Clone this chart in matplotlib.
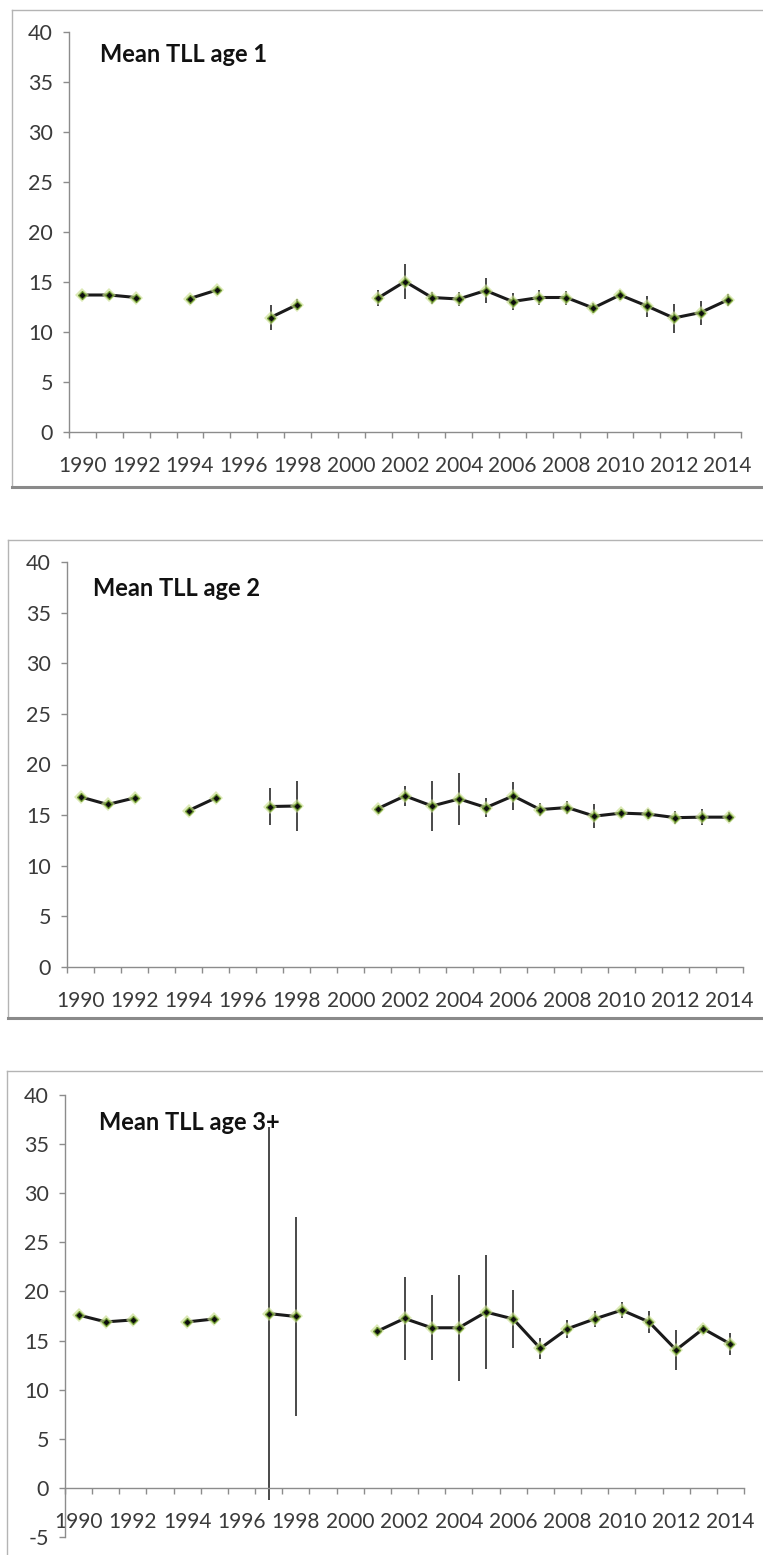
import numpy as np
import matplotlib
matplotlib.use("Agg")
import matplotlib.pyplot as plt
from matplotlib.lines import Line2D

plt.rcParams['font.family'] = ['Lato', 'DejaVu Sans']
plt.rcParams['axes.unicode_minus'] = False

nan = np.nan
years = list(range(1990, 2015))
year_labels = [str(y) for y in range(1990, 2015, 2)]

age1 = [13.7, 13.7, 13.45, nan, 13.35, 14.2, nan, 11.45, 12.75, nan, nan,
        13.4, 15.05, 13.45, 13.3, 14.15, 13.05, 13.45, 13.45, 12.4, 13.7,
        12.6, 11.4, 11.95, 13.2]
age1_err = [0.2, 0.2, 0.2, nan, 0.2, 0.2, nan, 1.25, 0.55, nan, nan,
            0.8, 1.75, 0.6, 0.7, 1.25, 0.85, 0.75, 0.7, 0.5, 0.5,
            1.05, 1.45, 1.2, 0.6]

age2 = [16.8, 16.05, 16.7, nan, 15.45, 16.7, nan, 15.85, 15.9, nan, nan,
        15.65, 16.9, 15.9, 16.6, 15.75, 16.9, 15.55, 15.75, 14.9, 15.2,
        15.1, 14.75, 14.8, 14.8]
age2_err = [0.2, 0.2, 0.2, nan, 0.2, 0.2, nan, 1.85, 2.5, nan, nan,
            0.3, 0.95, 2.5, 2.6, 0.9, 1.4, 0.6, 0.6, 1.15, 0.4,
            0.5, 0.65, 0.8, 0.5]

age3 = [17.6, 16.9, 17.1, nan, 16.9, 17.2, nan, 17.75, 17.45, nan, nan,
        15.95, 17.25, 16.3, 16.3, 17.9, 17.2, 14.2, 16.2, 17.2, 18.1,
        16.9, 14.05, 16.2, 14.65]
age3_err = [0.2, 0.2, 0.2, nan, 0.2, 0.2, nan, 19.0, 10.1, nan, nan,
            0.4, 4.25, 3.3, 5.4, 5.8, 2.95, 1.05, 0.9, 0.85, 0.85,
            1.1, 2.05, 0.4, 1.15]

titles = ["Mean TLL age 1", "Mean TLL age 2", "Mean TLL age 3+"]

W, H = 763, 1555
fig = plt.figure(figsize=(W / 100, H / 100), dpi=100)
fig.patch.set_facecolor("white")


def fx(x):
    return x / W


def fy(y):
    return 1 - y / H


def frame(left, top, bottom, right=W + 10):
    grey = "#b4b4b4"
    fig.add_artist(Line2D([fx(left), fx(right)], [fy(top), fy(top)], color=grey, lw=1.0))
    fig.add_artist(Line2D([fx(left), fx(left)], [fy(top), fy(bottom)], color=grey, lw=1.0))
    if bottom < H:
        fig.add_artist(Line2D([fx(left), fx(right)], [fy(bottom), fy(bottom)],
                              color="#8a8a8a", lw=2.2))


frame(12, 10, 487)
frame(8, 540, 1018)
frame(7, 1071, H + 10)

# axes boxes in pixel coordinates: left, right, y at top value, y at bottom value
panels = [
    dict(x0=69, x1=741, ytop=32, ybot=432, ymin=0, ymax=40, data=age1, err=age1_err,
         title=titles[0], tx=100, ty=55),
    dict(x0=67, x1=743, ytop=562, ybot=967, ymin=0, ymax=40, data=age2, err=age2_err,
         title=titles[1], tx=93, ty=588),
    dict(x0=65, x1=744, ytop=1095, ybot=1537, ymin=-5, ymax=40, data=age3, err=age3_err,
         title=titles[2], tx=99, ty=1123),
]

axis_grey = "#8c8c8c"
label_col = "#3a3a3a"
x = np.arange(len(years))

for p in panels:
    ax = fig.add_axes([fx(p["x0"]), fy(p["ybot"]), fx(p["x1"]) - fx(p["x0"]),
                       fy(p["ytop"]) - fy(p["ybot"])])
    ax.set_facecolor("none")
    ax.set_xlim(-0.5, len(years) - 0.5)
    ax.set_ylim(p["ymin"], p["ymax"])
    for s in ("top", "right"):
        ax.spines[s].set_visible(False)
    ax.spines["left"].set_color(axis_grey)
    ax.spines["bottom"].set_color(axis_grey)
    ax.spines["left"].set_linewidth(1.0)
    ax.spines["bottom"].set_linewidth(1.0)
    ax.spines["bottom"].set_position(("data", 0))

    # category boundaries carry the tick marks, labels sit at every second year
    ax.set_xticks(np.arange(-0.5, len(years), 1.0))
    ax.set_xticklabels([])
    ax.set_xticks(np.arange(0, len(years), 2), minor=True)
    ax.set_xticklabels(year_labels, minor=True)
    ax.tick_params(axis="x", which="major", direction="out", length=4.5, width=1.0,
                   color=axis_grey)
    ax.tick_params(axis="x", which="minor", length=0, pad=17.5, labelsize=15,
                   labelcolor=label_col)

    ax.set_yticks(np.arange(p["ymin"], p["ymax"] + 1, 5))
    ax.tick_params(axis="y", direction="out", length=4.5, width=1.0, color=axis_grey,
                   pad=7, labelsize=15.5, labelcolor=label_col)

    vals = np.array(p["data"], dtype=float)
    errs = np.array(p["err"], dtype=float)

    ax.errorbar(x, vals, yerr=errs, fmt="none", ecolor="#2a2a2a", elinewidth=1.2,
                capsize=0, zorder=2, clip_on=False)
    ax.plot(x, vals, color="#1a1a1a", lw=2.2, zorder=3, solid_capstyle="round")
    ax.plot(x, vals, linestyle="none", marker="D", markersize=7.5,
            color="#c8de8e", alpha=0.65, zorder=4, markeredgewidth=0)
    ax.plot(x, vals, linestyle="none", marker="D", markersize=4.5,
            markerfacecolor="#0d0d0d", markeredgecolor="#6f9a32",
            markeredgewidth=0.9, zorder=5)

    fig.text(fx(p["tx"]), fy(p["ty"]), p["title"], fontsize=17, fontweight="bold",
             color="#111111", ha="left", va="center")

fig.savefig("out.png", dpi=100, facecolor="white")
